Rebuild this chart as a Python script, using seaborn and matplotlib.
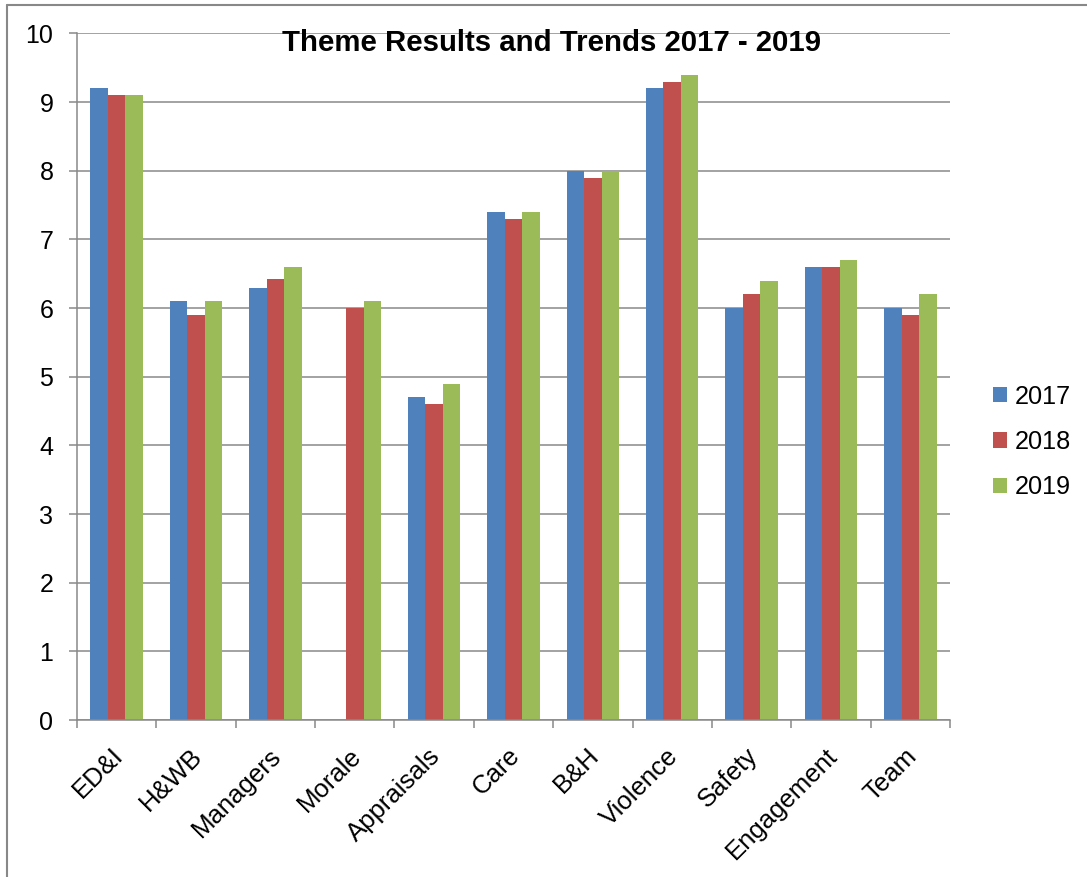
import numpy as np
import pandas as pd
import matplotlib
matplotlib.use("Agg")
import matplotlib.pyplot as plt
import matplotlib.transforms as mtransforms
import seaborn as sns
from matplotlib.lines import Line2D
from matplotlib.ticker import FixedLocator

themes = ["ED&I", "H&WB", "Managers", "Morale", "Appraisals", "Care",
          "B&H", "Violence", "Safety", "Engagement", "Team"]
years = ["2017", "2018", "2019"]
vals_2017 = [9.2, 6.1, 6.3, np.nan, 4.7, 7.4, 8.0, 9.2, 6.0, 6.6, 6.0]
vals_2018 = [9.1, 5.9, 6.42, 6.0, 4.6, 7.3, 7.9, 9.3, 6.2, 6.6, 5.9]
vals_2019 = [9.1, 6.1, 6.6, 6.1, 4.9, 7.4, 8.0, 9.4, 6.4, 6.7, 6.2]
colors = ["#4F81BD", "#C0504D", "#9BBB59"]

df = pd.DataFrame({"Theme": themes, "2017": vals_2017, "2018": vals_2018, "2019": vals_2019})
df = df.melt(id_vars="Theme", var_name="Year", value_name="Score").dropna()

sns.set_style("white")
plt.rcParams["font.family"] = ["Liberation Sans", "DejaVu Sans"]
plt.rcParams["text.color"] = "black"
plt.rcParams["xtick.color"] = "black"
plt.rcParams["ytick.color"] = "black"
grid_c = "#898989"

fig = plt.figure(figsize=(10.87, 8.77), dpi=100)
ax = fig.add_axes([77 / 1087, 1 - 720 / 877, (950 - 77) / 1087, (720 - 33.5) / 877])

sns.barplot(data=df, x="Theme", y="Score", hue="Year", order=themes, hue_order=years,
            palette=colors, width=0.66, gap=0, linewidth=0, saturation=1, ax=ax)

ax.set_ylim(0, 10)
ax.set_xlim(-0.5, len(themes) - 0.5)
ax.set_yticks(range(0, 11))
ax.yaxis.grid(True, color=grid_c, linewidth=1.1)
ax.set_axisbelow(True)
ax.set_xlabel("")
ax.set_ylabel("")

# category boundary ticks, labels at the centres
ax.xaxis.set_major_locator(FixedLocator(np.arange(-0.5, len(themes), 1.0)))
ax.xaxis.set_minor_locator(FixedLocator(np.arange(len(themes))))
ax.set_xticklabels([""] * (len(themes) + 1))
ax.set_xticklabels(themes, minor=True, rotation=45, ha="right", va="top", rotation_mode="anchor")
ax.tick_params(axis="x", which="major", length=6, width=1.1, color=grid_c, direction="out", bottom=True)
ax.tick_params(axis="x", which="minor", length=0, pad=17, labelsize=18.5, labelcolor="black")
ax.tick_params(axis="y", length=6, width=1.1, color=grid_c, direction="out", left=True,
               pad=11, labelsize=18, labelcolor="black")
shift = mtransforms.ScaledTranslation(-6 / 100, 0, fig.dpi_scale_trans)
for lbl in ax.get_xticklabels(minor=True):
    lbl.set_transform(lbl.get_transform() + shift)

for side in ["top", "right"]:
    ax.spines[side].set_visible(False)
for side in ["left", "bottom"]:
    ax.spines[side].set_color(grid_c)
    ax.spines[side].set_linewidth(1.1)

fig.text(552 / 1087, 1 - 43 / 877, "Theme Results and Trends 2017 - 2019",
         ha="center", va="center", fontsize=21.2, fontweight="bold", color="black")

handles, labels = ax.get_legend_handles_labels()
ax.legend(handles, labels, loc="center left", bbox_to_anchor=(993 / 1087, 1 - 442 / 877),
          bbox_transform=fig.transFigure, frameon=False, fontsize=18.2,
          handlelength=0.55, handleheight=0.55, handletextpad=0.3,
          labelspacing=0.85, borderpad=0, borderaxespad=0)

# outer frame lines (left and top)
fig.add_artist(Line2D([7 / 1087, 7 / 1087], [0, 1 - 5 / 877], transform=fig.transFigure,
                      color="#888888", linewidth=1.5))
fig.add_artist(Line2D([7 / 1087, 1], [1 - 5 / 877, 1 - 5 / 877], transform=fig.transFigure,
                      color="#888888", linewidth=1.5))

fig.savefig("out.png", dpi=100, facecolor="white")
